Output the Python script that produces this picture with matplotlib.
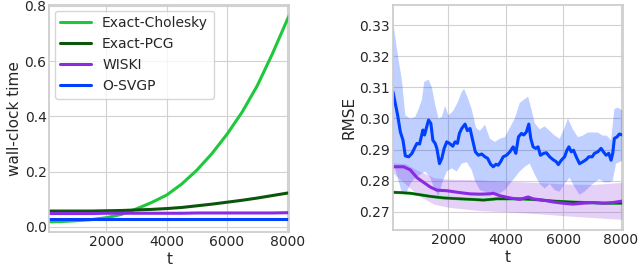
import numpy as np
import matplotlib
matplotlib.use("Agg")
import matplotlib.pyplot as plt
import seaborn as sns

# ---- left panel: wall-clock time per step ----
t_time = [105, 500, 1000, 1500, 2000, 2500, 3000, 3500, 4000, 4500,
          5000, 5500, 6000, 6500, 7000, 7500, 8000, 8065]
chol_time = [0.018, 0.019, 0.022, 0.026, 0.033, 0.045, 0.065, 0.088, 0.115, 0.155,
             0.205, 0.265, 0.335, 0.415, 0.510, 0.625, 0.750, 0.765]
pcg_time = [0.057, 0.057, 0.057, 0.057, 0.058, 0.059, 0.061, 0.063, 0.066, 0.070,
            0.076, 0.082, 0.089, 0.096, 0.104, 0.113, 0.122, 0.123]
wiski_time = [0.048, 0.048, 0.048, 0.048, 0.049, 0.049, 0.049, 0.049, 0.049, 0.049,
              0.050, 0.050, 0.050, 0.050, 0.050, 0.050, 0.051, 0.051]
osvgp_time = [0.028, 0.028, 0.028, 0.028, 0.028, 0.028, 0.028, 0.028, 0.028, 0.028,
              0.028, 0.028, 0.028, 0.028, 0.028, 0.028, 0.028, 0.028]

# ---- right panel: RMSE ----
t_svgp = [70, 234, 327, 419, 500, 615, 731, 846, 904, 996, 1054, 1111, 1169, 1227,
          1308, 1388, 1458, 1538, 1596, 1688, 1769, 1850, 1942, 2035, 2150, 2231,
          2312, 2381, 2462, 2577, 2658, 2750, 2842, 2935, 3039, 3154, 3269, 3362,
          3466, 3558, 3650, 3731, 3812, 3904, 4019, 4135, 4250, 4343, 4435, 4539,
          4620, 4712, 4793, 4862, 4943, 5035, 5116, 5197, 5312, 5404, 5520, 5635,
          5751, 5820, 5924, 6039, 6120, 6189, 6270, 6351, 6443, 6558, 6674, 6789,
          6881, 6997, 7078, 7193, 7308, 7389, 7482, 7574, 7655, 7712, 7770, 7862,
          7943, 8060]
svgp_rmse = [0.3086, 0.3010, 0.2957, 0.2930, 0.2880, 0.2877, 0.2888, 0.2910, 0.2920,
             0.2918, 0.2941, 0.2963, 0.2947, 0.2968, 0.2995, 0.2984, 0.2930, 0.2920,
             0.2904, 0.2855, 0.2872, 0.2904, 0.2925, 0.2920, 0.2911, 0.2925, 0.2920,
             0.2952, 0.2968, 0.2982, 0.2961, 0.2968, 0.2930, 0.2893, 0.2882, 0.2886,
             0.2877, 0.2872, 0.2853, 0.2845, 0.2853, 0.2850, 0.2861, 0.2877, 0.2882,
             0.2893, 0.2909, 0.2888, 0.2941, 0.2952, 0.2947, 0.2957, 0.2982, 0.2936,
             0.2909, 0.2904, 0.2909, 0.2882, 0.2888, 0.2890, 0.2877, 0.2868, 0.2861,
             0.2852, 0.2866, 0.2877, 0.2898, 0.2909, 0.2893, 0.2898, 0.2877, 0.2855,
             0.2861, 0.2868, 0.2877, 0.2877, 0.2888, 0.2893, 0.2904, 0.2893, 0.2882,
             0.2888, 0.2866, 0.2888, 0.2936, 0.2941, 0.2950, 0.2947]

t_svgp_hi = [70, 211, 384, 500, 673, 846, 961, 1077, 1158, 1308, 1423, 1538, 1654,
             1769, 1885, 2000, 2173, 2312, 2462, 2542, 2658, 2808, 2958, 3096, 3269,
             3443, 3616, 3789, 3962, 4135, 4308, 4481, 4620, 4770, 4885, 5000, 5174,
             5347, 5520, 5693, 5866, 6039, 6154, 6328, 6500, 6674, 6847, 7020, 7193,
             7366, 7505, 7655, 7770, 7885, 8060]
svgp_hi = [0.3316, 0.3220, 0.3120, 0.3010, 0.3000, 0.3005, 0.3030, 0.3060, 0.3117,
           0.3125, 0.3100, 0.3045, 0.3000, 0.3005, 0.3040, 0.3010, 0.3025, 0.3050,
           0.3085, 0.3095, 0.3070, 0.3030, 0.2970, 0.2960, 0.2980, 0.2935, 0.2925,
           0.2935, 0.2940, 0.2970, 0.3000, 0.3050, 0.3060, 0.3070, 0.3030, 0.2985,
           0.2965, 0.2975, 0.2960, 0.2945, 0.2935, 0.2970, 0.3000, 0.2965, 0.2940,
           0.2945, 0.2955, 0.2955, 0.2955, 0.2945, 0.2945, 0.2930, 0.3030, 0.3035,
           0.3025]
t_svgp_lo = [70, 234, 384, 557, 673, 846, 1019, 1192, 1365, 1538, 1654, 1769, 1942,
             2115, 2289, 2462, 2635, 2808, 2923, 3096, 3269, 3443, 3616, 3789, 3962,
             4135, 4308, 4481, 4654, 4827, 5000, 5174, 5347, 5520, 5693, 5866, 6039,
             6212, 6385, 6558, 6731, 6904, 7078, 7251, 7424, 7597, 7712, 7828, 8060]
svgp_lo = [0.2860, 0.2810, 0.2760, 0.2765, 0.2790, 0.2810, 0.2820, 0.2830, 0.2810,
           0.2770, 0.2750, 0.2790, 0.2830, 0.2840, 0.2830, 0.2855, 0.2860, 0.2835,
           0.2800, 0.2770, 0.2765, 0.2755, 0.2755, 0.2760, 0.2770, 0.2790, 0.2810,
           0.2830, 0.2845, 0.2855, 0.2820, 0.2790, 0.2775, 0.2790, 0.2770, 0.2765,
           0.2790, 0.2810, 0.2780, 0.2755, 0.2765, 0.2780, 0.2795, 0.2805, 0.2795,
           0.2795, 0.2800, 0.2855, 0.2865]

t_wiski = [70, 442, 673, 904, 1135, 1365, 1596, 1942, 2404, 2750, 3096, 3443, 3558,
           3789, 4135, 4481, 4770, 4943, 5289, 5635, 5981, 6328, 6674, 7020, 7366,
           7712, 8060]
wiski_rmse = [0.2845, 0.2845, 0.2835, 0.2810, 0.2795, 0.2780, 0.2770, 0.2768, 0.2762,
              0.2758, 0.2757, 0.2758, 0.2760, 0.2752, 0.2745, 0.2740, 0.2748, 0.2742,
              0.2738, 0.2732, 0.2728, 0.2725, 0.2728, 0.2730, 0.2728, 0.2730, 0.2735]
t_wiski_band = [70, 500, 1000, 1500, 2000, 3000, 4000, 5000, 6000, 7000, 8060]
wiski_hi = [0.2858, 0.2855, 0.2830, 0.2810, 0.2805, 0.2803, 0.2798, 0.2795, 0.2790,
            0.2788, 0.2795]
wiski_lo = [0.2825, 0.2790, 0.2750, 0.2725, 0.2715, 0.2705, 0.2700, 0.2695, 0.2688,
            0.2682, 0.2676]

t_exact = [70, 327, 673, 1019, 1365, 1827, 2404, 2866, 3212, 3673, 4481, 4943, 5635,
           6212, 6789, 7482, 8060]
exact_rmse = [0.2763, 0.2762, 0.2760, 0.2755, 0.2750, 0.2745, 0.2742, 0.2740, 0.2738,
              0.2742, 0.2742, 0.2740, 0.2735, 0.2732, 0.2730, 0.2728, 0.2728]

labels = ["Exact-Cholesky", "Exact-PCG", "WISKI", "O-SVGP"]
c_chol = "#1ec83a"
c_pcg = "#0b560b"
c_wiski = "#8a2be2"
c_svgp = "#0040ff"

sns.set_style("whitegrid", {"axes.edgecolor": ".8", "grid.color": ".82"})
plt.rcParams["font.family"] = ["DejaVu Sans"]
plt.rcParams["axes.linewidth"] = 1.25

fig = plt.figure(figsize=(6.4, 2.69), dpi=100)
ax1 = fig.add_axes([0.077, 0.137, 0.375, 0.844])
ax2 = fig.add_axes([0.614, 0.145, 0.359, 0.836])

ax1.plot(t_time, chol_time, color=c_chol, lw=2.2, label=labels[0])
ax1.plot(t_time, pcg_time, color=c_pcg, lw=2.2, label=labels[1])
ax1.plot(t_time, wiski_time, color=c_wiski, lw=2.2, label=labels[2])
ax1.plot(t_time, osvgp_time, color=c_svgp, lw=2.2, label=labels[3])
ax1.set_xlim(105, 8065)
ax1.set_yticks([0.0, 0.2, 0.4, 0.6, 0.8])
ax1.set_xticks([2000, 4000, 6000, 8000])
ax1.set_xlabel("t", fontsize=11, labelpad=2)
ax1.set_ylabel("wall-clock time", fontsize=11, labelpad=2)
ax1.legend(loc="upper left", fontsize=10, frameon=True, borderaxespad=0.4,
           handlelength=2.2, labelspacing=0.5)

ax2.fill(np.concatenate([t_svgp_hi, t_svgp_lo[::-1]]),
         np.concatenate([svgp_hi, svgp_lo[::-1]]),
         color=c_svgp, alpha=0.25, lw=0)
ax2.fill_between(t_wiski_band, wiski_lo, wiski_hi, color=c_wiski, alpha=0.22, lw=0)
ax2.plot(t_exact, exact_rmse, color=c_chol, lw=2.2)
ax2.plot(t_exact, exact_rmse, color=c_pcg, lw=1.7)
ax2.plot(t_wiski, wiski_rmse, color=c_wiski, lw=2.2)
ax2.plot(t_svgp, svgp_rmse, color=c_svgp, lw=2.2)
ax2.set_xlim(70, 8060)
ax2.set_ylim(0.2642, 0.3364)
ax2.set_yticks([0.27, 0.28, 0.29, 0.30, 0.31, 0.32, 0.33])
ax2.set_yticklabels(["0.27", "0.28", "0.29", "0.30", "0.31", "0.32", "0.33"])
ax2.set_xticks([2000, 4000, 6000, 8000])
ax2.set_xlabel("t", fontsize=11, labelpad=2)
ax2.set_ylabel("RMSE", fontsize=11, labelpad=2)

for ax in (ax1, ax2):
    ax.tick_params(labelsize=10, pad=2, length=0)

fig.savefig("out.png", dpi=100)
